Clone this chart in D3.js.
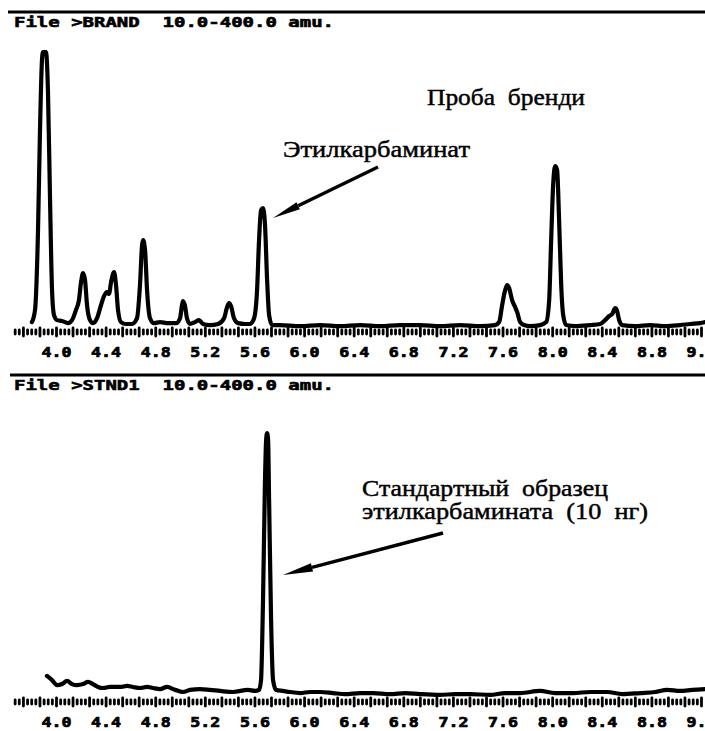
<!DOCTYPE html>
<html>
<head>
<meta charset="utf-8">
<script src="https://cdn.jsdelivr.net/npm/d3@7"></script>
<style>
  body { margin: 0; background: #fff; }
</style>
</head>
<body>
<div id="chart"></div>
<script>
///////// VALUES /////////
// retention time (min) and relative abundance (% of the panel's largest peak)
var brandTime = [3.806, 3.831, 3.855, 3.871, 3.887, 3.895, 3.919, 3.935, 3.952, 3.968, 3.984,
      4.008, 4.048, 4.097, 4.129, 4.161, 4.185, 4.202, 4.218, 4.234, 4.250, 4.274, 4.298,
      4.331, 4.363, 4.387, 4.411, 4.427, 4.444, 4.468, 4.484, 4.500, 4.524, 4.565, 4.613,
      4.653, 4.677, 4.694, 4.702, 4.718, 4.734, 4.758, 4.790, 4.839, 4.903, 4.968,
      5.000, 5.016, 5.024, 5.040, 5.056, 5.081, 5.121, 5.153, 5.185, 5.242, 5.306,
      5.355, 5.379, 5.395, 5.411, 5.435, 5.468, 5.524, 5.565,
      5.597, 5.621, 5.637, 5.653, 5.669, 5.685, 5.702, 5.718, 5.742,
      5.806, 5.968, 6.129, 6.290, 6.452, 6.613, 6.774, 6.935, 7.097, 7.258, 7.419, 7.540,
      7.573, 7.597, 7.621, 7.637, 7.653, 7.677, 7.702, 7.718, 7.742, 7.774, 7.823, 7.903,
      7.952, 7.976, 7.992, 8.008, 8.024, 8.040, 8.056, 8.073, 8.089, 8.113, 8.185, 8.306,
      8.387, 8.427, 8.460, 8.484, 8.508, 8.524, 8.540, 8.565,
      8.669, 8.790, 8.911, 9.032, 9.113, 9.194, 9.234],
    brandAbund = [1.8, 6.2, 35.2, 71.6, 97.1, 100, 100, 86.2, 46.2, 13.4, 4.3,
      2.5, 2.2, 1.4, 2.5, 6.2, 9.8, 16.3, 19.6, 17.1, 8.0, 2.5, 1.4,
      3.2, 8.0, 11.2, 12.7, 12.0, 16.3, 20.0, 15.2, 6.2, 1.8, 1.1, 1.1,
      3.2, 15.2, 29.8, 31.6, 28.0, 13.4, 3.2, 1.4, 1.8, 1.4, 1.4,
      3.2, 8.0, 9.4, 7.6, 3.2, 1.1, 1.8, 2.5, 1.1, 0.7, 1.1,
      3.2, 7.2, 8.7, 7.6, 3.2, 1.4, 1.1, 1.1,
      3.2, 13.4, 31.6, 42.5, 43.2, 37.1, 17.1, 4.3, 0.7,
      0.7, 0.3, 0.7, 0.3, 0.7, 0.3, 0.7, 0.7, 0.3, 0.7, 0.3, 0.7,
      1.8, 8.0, 13.4, 15.2, 14.2, 9.8, 7.2, 5.4, 1.8, 0.7, 0.3, 0.7,
      1.8, 9.8, 31.6, 51.6, 58.5, 57.1, 38.9, 15.2, 4.3, 0.7, 0.3, 0.7,
      1.1, 2.5, 4.0, 4.7, 6.9, 5.8, 2.5, 0.7,
      0.3, 0.7, 0.3, 0.7, 1.1, 1.4, 1.8];

var stndTime = [3.927, 3.968, 4.008, 4.048, 4.089, 4.129, 4.169, 4.218, 4.258, 4.298,
      4.339, 4.379, 4.435, 4.516, 4.573, 4.621, 4.677, 4.734, 4.782, 4.839, 4.895,
      4.960, 5.024, 5.081, 5.161, 5.242, 5.323, 5.427, 5.548, 5.605,
      5.637, 5.653, 5.669, 5.685, 5.694, 5.702, 5.710, 5.718, 5.734, 5.750, 5.774,
      5.831, 5.887, 5.968, 6.048, 6.129, 6.234, 6.331, 6.452, 6.556, 6.694, 6.815,
      6.935, 7.097, 7.218, 7.339, 7.500, 7.621, 7.742, 7.903, 8.024, 8.169, 8.306,
      8.444, 8.565, 8.710, 8.831, 8.927, 9.032, 9.129, 9.234],
    stndAbund = [8.0, 6.4, 4.5, 4.9, 6.1, 4.9, 4.5, 4.9, 5.7, 4.9,
      3.8, 3.4, 3.8, 3.8, 4.2, 3.8, 3.4, 3.8, 3.4, 3.0, 3.8,
      2.7, 1.9, 2.7, 3.0, 2.7, 2.3, 1.9, 2.7, 2.3,
      2.7, 6.4, 36.7, 82.2, 97.3, 100, 97.3, 74.6, 29.2, 6.4, 2.7,
      2.3, 1.9, 1.5, 1.9, 1.9, 1.5, 1.1, 1.5, 1.5, 1.1, 1.5,
      1.1, 0.8, 1.1, 1.1, 0.8, 1.5, 1.5, 2.3, 1.5, 1.5, 1.9,
      1.9, 1.1, 1.5, 1.9, 2.7, 2.3, 2.7, 3.0];

// retention time labels printed under each trace
var tickLabels = [4.0, 4.4, 4.8, 5.2, 5.6, 6.0, 6.4, 6.8, 7.2, 7.6, 8.0, 8.4, 8.8, 9.2];

var headerBrand = 'File >BRAND  10.0-400.0 amu.',
    headerStnd = 'File >STND1  10.0-400.0 amu.',
    titleBrand = 'Проба  бренди',
    noteBrand = 'Этилкарбаминат',
    noteStnd = ['Стандартный  образец', 'этилкарбамината  (10  нг)'];
////////////////////////////////////////////////////////////

var W = 705, H = 731;

var svg = d3.select('#chart')
  .append('svg')
    .attr('width', W)
    .attr('height', H)
    .style('display', 'block')
    .style('background', '#fff');

var x = d3.scaleLinear().domain([4.0, 9.2]).range([56, 701]);

// scan marks every 2 s, a longer one every 8 s
var scanMarks = d3.range(-10, 157).map(function(k) { return 4.0 + k / 30; });

function drawPanel(o) {
  var g = svg.append('g');

  g.append('line')
    .attr('x1', o.ruleX).attr('x2', W)
    .attr('y1', o.ruleY).attr('y2', o.ruleY)
    .attr('stroke', '#000')
    .attr('stroke-width', 3);

  g.append('text')
    .attr('x', 14)
    .attr('y', o.ruleY + 15)
    .attr('textLength', 320)
    .attr('lengthAdjust', 'spacingAndGlyphs')
    .attr('stroke', '#000')
    .attr('stroke-width', 0.6)
    .style('font-family', '"DejaVu Sans Mono", monospace')
    .style('font-weight', 'bold')
    .style('font-size', '14px')
    .style('white-space', 'pre')
    .text(o.header);

  var y = d3.scaleLinear().domain([0, 100]).range([o.base, o.top]);

  var line = d3.line()
    .x(function(d) { return x(d[0]); })
    .y(function(d) { return y(d[1]); })
    .curve(d3.curveMonotoneX);

  g.append('path')
    .datum(d3.zip(o.time, o.abund))
    .attr('d', line)
    .attr('fill', 'none')
    .attr('stroke', '#000')
    .attr('stroke-width', 4.2)
    .attr('stroke-linejoin', 'round')
    .attr('stroke-linecap', 'round');

  // row of scan marks
  var marks = g.append('g')
    .attr('transform', 'translate(0,' + o.markY + ')')
    .call(d3.axisBottom(x).tickValues(scanMarks).tickFormat(''));
  marks.select('.domain').remove();
  marks.selectAll('.tick line')
    .attr('stroke', '#000')
    .attr('stroke-width', 2.8)
    .attr('stroke-linecap', 'round')
    .attr('y1', function(d, i) { return (i + 2) % 4 === 0 ? -1 : 1; })
    .attr('y2', function(d, i) { return (i + 2) % 4 === 0 ? 7 : 5; });

  // time labels
  var labels = g.append('g')
    .attr('transform', 'translate(0,' + (o.markY + 18) + ')')
    .call(d3.axisBottom(x)
      .tickValues(tickLabels)
      .tickSize(0)
      .tickPadding(0)
      .tickFormat(d3.format('.1f')));
  labels.select('.domain').remove();
  labels.selectAll('text')
    .attr('fill', '#000')
    .attr('stroke', '#000')
    .attr('stroke-width', 0.7)
    .attr('textLength', 30)
    .attr('lengthAdjust', 'spacingAndGlyphs')
    .style('font-family', '"DejaVu Sans Mono", monospace')
    .style('font-weight', 'bold')
    .style('font-size', '13.5px');

  return g;
}

function arrow(g, x1, y1, x2, y2, headLen, headW) {
  var dx = x2 - x1, dy = y2 - y1,
      len = Math.sqrt(dx * dx + dy * dy),
      ux = dx / len, uy = dy / len,
      bx = x2 - ux * headLen, by = y2 - uy * headLen;
  g.append('line')
    .attr('x1', x1).attr('y1', y1)
    .attr('x2', bx).attr('y2', by)
    .attr('stroke', '#000')
    .attr('stroke-width', 3.4);
  g.append('path')
    .attr('d', 'M' + x2 + ',' + y2 +
      'L' + (bx - uy * headW) + ',' + (by + ux * headW) +
      'L' + (bx + uy * headW) + ',' + (by - ux * headW) + 'Z')
    .attr('fill', '#000');
}

// lines: text strings, widths: printed width of each line in px
function note(g, lines, widths, x0, y0) {
  g.append('text')
    .attr('x', x0)
    .attr('y', y0)
    .attr('fill', '#000')
    .attr('stroke', '#000')
    .attr('stroke-width', 0.45)
    .style('font-family', '"Liberation Serif", "Times New Roman", serif')
    .style('font-size', '23px')
    .style('white-space', 'pre')
    .selectAll('tspan')
    .data(lines)
    .enter()
      .append('tspan')
        .attr('x', x0)
        .attr('dy', function(d, i) { return i === 0 ? 0 : 23; })
        .attr('textLength', function(d, i) { return widths[i]; })
        .attr('lengthAdjust', 'spacingAndGlyphs')
        .text(function(d) { return d; });
}

var brandPanel = drawPanel({
  ruleX: 8, ruleY: 12, header: headerBrand,
  time: brandTime, abund: brandAbund,
  base: 327, top: 52, markY: 329
});
note(brandPanel, [titleBrand], [158], 427, 105);
note(brandPanel, [noteBrand], [187], 283, 157);
arrow(brandPanel, 378, 167, 273, 218, 28, 3.8);

var stndPanel = drawPanel({
  ruleX: 10, ruleY: 375, header: headerStnd,
  time: stndTime, abund: stndAbund,
  base: 697, top: 433, markY: 699
});
note(stndPanel, noteStnd, [246, 286], 362, 496);
arrow(stndPanel, 443, 533, 283, 575, 30, 4.2);
</script>
</body>
</html>
